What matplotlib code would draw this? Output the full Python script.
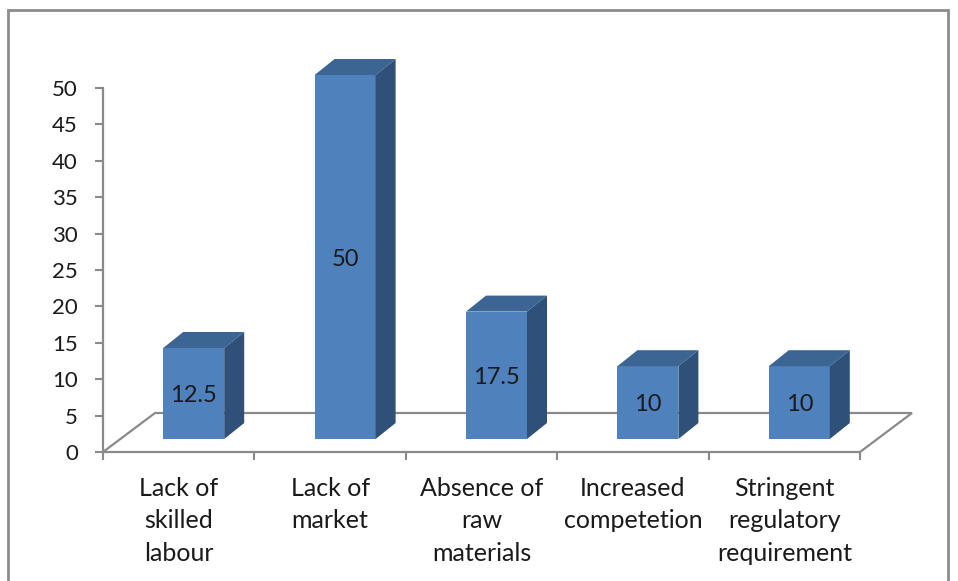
import matplotlib
matplotlib.use("Agg")
import matplotlib.pyplot as plt
from matplotlib.patches import Polygon, Rectangle
import numpy as np

categories = ["Lack of\nskilled\nlabour", "Lack of\nmarket", "Absence of\nraw\nmaterials",
              "Increased\ncompetetion", "Stringent\nregulatory\nrequirement"]
values = [12.5, 50, 17.5, 10, 10]
value_labels = ["12.5", "50", "17.5", "10", "10"]
yticks = [0, 5, 10, 15, 20, 25, 30, 35, 40, 45, 50]

W, H = 958, 581
fig = plt.figure(figsize=(W / 100, H / 100), dpi=100)
plt.rcParams['font.family'] = ['Lato', 'DejaVu Sans']

# axes placement in pixels
x0, x1 = 103, 860
y0, y1 = 452, 88
ax = fig.add_axes([x0 / W, 1 - y0 / H, (x1 - x0) / W, (y0 - y1) / H])
n = len(categories)
ax.set_xlim(-0.5, n - 0.5)
ax.set_ylim(0, 50)

px_x = (x1 - x0) / n          # pixels per category
px_y = (y0 - y1) / 50.0       # pixels per unit

gray = '#8a8a8a'
front = '#4F81BD'
topc = '#3C6594'
sidec = '#2F5179'
txt = '#1a1a1a'

# floor depth
fdx = 52 / px_x
fdy = 39 / px_y
floor_pts = [(-0.5, 0), (-0.5 + fdx, fdy), (n - 0.5 + fdx, fdy), (n - 0.5, 0)]
ax.add_patch(Polygon(floor_pts, closed=False, fill=False, edgecolor=gray, lw=1.6,
                     clip_on=False, zorder=1))

# bars
base = 13 / px_y
xoff = 15 / px_x
bw = 61 / px_x
bdx = 20 / px_x
bdy = 16 / px_y
xs = np.arange(n) + xoff
ax.bar(xs, values, width=bw, bottom=base, color=front, zorder=3, clip_on=False)
for x, v, lab in zip(xs, values, value_labels):
    xl, xr = x - bw / 2, x + bw / 2
    top = base + v
    ax.add_patch(Polygon([(xl, top), (xl + bdx, top + bdy), (xr + bdx, top + bdy), (xr, top)],
                         closed=True, facecolor=topc, edgecolor='none', zorder=3, clip_on=False))
    ax.add_patch(Polygon([(xr, base), (xr + bdx, base + bdy), (xr + bdx, top + bdy), (xr, top)],
                         closed=True, facecolor=sidec, edgecolor='none', zorder=3, clip_on=False))
    ax.text(x, base + v / 2, lab, ha='center', va='center_baseline', fontsize=17, color=txt,
            zorder=4)

# spines and ticks
for s in ['top', 'right']:
    ax.spines[s].set_visible(False)
ax.spines['left'].set_color(gray)
ax.spines['bottom'].set_color(gray)
ax.spines['left'].set_linewidth(1.6)
ax.spines['bottom'].set_linewidth(1.6)
ax.set_yticks(yticks)
ax.set_yticklabels([str(t) for t in yticks])
ax.tick_params(axis='y', direction='out', length=6, width=1.5, color=gray,
               labelsize=16, pad=12, labelcolor=txt)
ax.set_xticks(np.arange(n + 1) - 0.5)
ax.set_xticklabels([])
ax.tick_params(axis='x', which='major', direction='out', length=6, width=1.5, color=gray)
ax.set_xticks(np.arange(n), minor=True)
ax.set_xticklabels(categories, minor=True, fontsize=18, linespacing=1.5, color=txt)
ax.tick_params(axis='x', which='minor', length=0, pad=18)
ax.patch.set_alpha(0)

# chart border
fig.patches.append(Rectangle((8 / W, -0.1), (948 - 8) / W, 1.1 - 10 / H, transform=fig.transFigure,
                             fill=False, edgecolor='#8c8c8c', lw=2))

fig.savefig('out.png', dpi=100)
